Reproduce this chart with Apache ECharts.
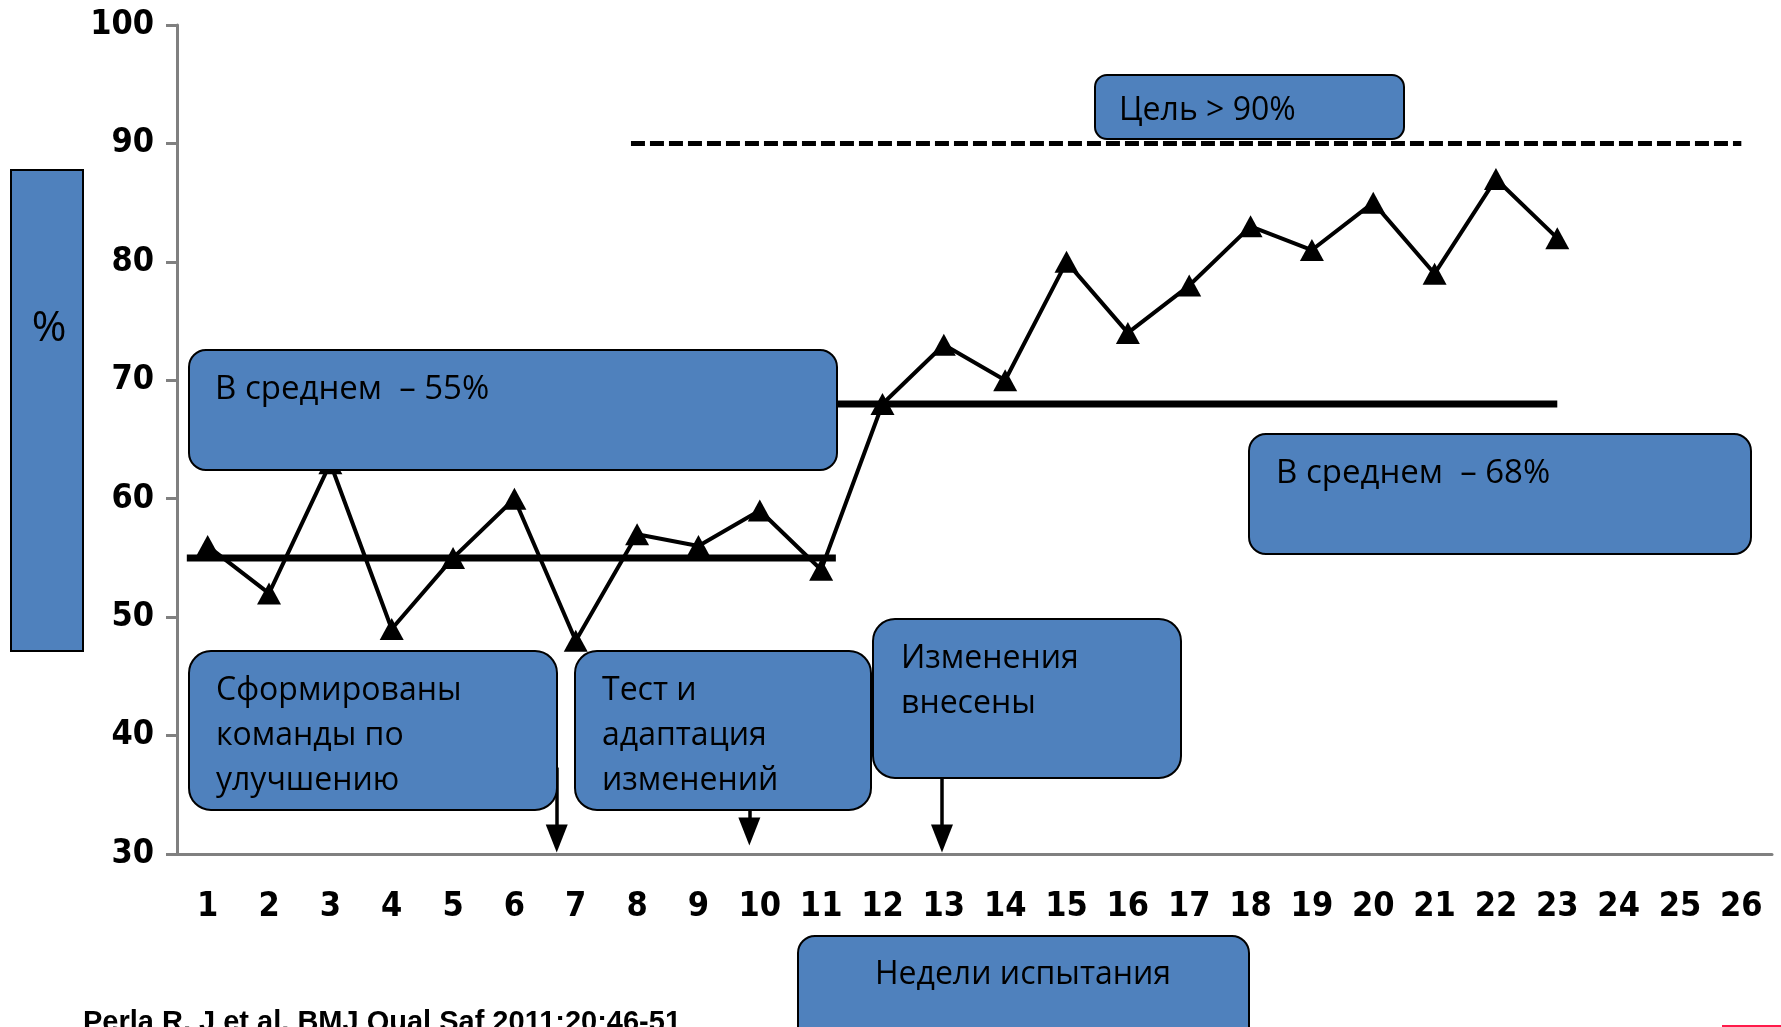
<!DOCTYPE html>
<html>
<head>
    <meta charset="utf-8"/>
    <title>Недели испытания</title>
    <script src="https://cdn.jsdelivr.net/npm/echarts@6/dist/echarts.min.js"></script>
    <style>
        html, body { margin: 0; padding: 0; background: #fff; }
        #main { width: 1781px; height: 1027px; }
    </style>
</head>
<body>
<div id="main"></div>
<script>
    // недели (категории оси X)
    var weeks = [];
    for (let i = 1; i <= 26; i++) {
        weeks.push(String(i));
    }
    // значения по неделям, %
    var values = [56, 52, 63, 49, 55, 60, 48, 57, 56, 59, 54, 68, 73, 70, 80, 74, 78, 83, 81, 85, 79, 87, 82];
    // подписи оси Y
    var yMin = 30, yMax = 100, yStep = 10;

    // средние и цель: [неделя, %]
    var avgBefore = [[0.66, 55], [11.24, 55]];
    var avgAfter = [[11.2, 68], [23.0, 68]];
    var goalLine = [[7.9, 90], [26.0, 90]];
    // стрелки: неделя, начало, конец (%)
    var arrows = [[6.69, 37.3, 31.3], [9.83, 33.7, 31.9], [12.97, 36.4, 31.3]];

    var blue = '#4f81bd';
    var boxFont = '"Open Sans", sans-serif';
    var axisFont = '"DejaVu Sans Condensed", "DejaVu Sans", sans-serif';

    function box(x, y, w, h, r) {
        return {
            type: 'rect', z: 100,
            shape: {x: x, y: y, width: w, height: h, r: r},
            style: {fill: blue, stroke: '#000', lineWidth: 2}
        };
    }
    function label(x, y, txt, size, align) {
        return {
            type: 'text', z: 101, x: x, y: y,
            style: {
                text: txt, fill: '#000', font: size + 'px ' + boxFont,
                textAlign: align || 'left', textVerticalAlign: 'middle'
            }
        };
    }

    var myChart = echarts.init(document.getElementById('main'));
    var option = {
        animation: false,
        grid: {left: 177, right: 9, top: 25, bottom: 173, containLabel: false},
        xAxis: [{
            type: 'category',
            data: weeks,
            axisLine: {lineStyle: {color: '#808080', width: 3}},
            axisTick: {length: 12, lineStyle: {color: '#808080', width: 3}},
            axisLabel: {
                color: '#000', fontFamily: axisFont, fontWeight: 'bold',
                fontSize: 34, margin: 36, interval: 0
            },
            splitLine: {show: false}
        }, {
            // скрытая ось для средних линий и стрелок
            type: 'value', min: 0.5, max: 26.5, show: false
        }],
        yAxis: {
            type: 'value', min: yMin, max: yMax, interval: yStep,
            axisLine: {show: true, lineStyle: {color: '#808080', width: 3}},
            axisTick: {show: true, length: 11, lineStyle: {color: '#808080', width: 3}},
            axisLabel: {
                color: '#000', fontFamily: axisFont, fontWeight: 'bold',
                fontSize: 34, margin: 23
            },
            splitLine: {show: false}
        },
        series: [{
            name: 'до', type: 'line', xAxisIndex: 1, data: avgBefore,
            symbol: 'none', lineStyle: {color: '#000', width: 7}, z: 1
        }, {
            name: 'после', type: 'line', xAxisIndex: 1, data: avgAfter,
            symbol: 'none', lineStyle: {color: '#000', width: 7}, z: 1
        }, {
            name: 'цель', type: 'line', xAxisIndex: 1, data: goalLine,
            symbol: 'none', lineStyle: {color: '#000', width: 5, type: [14, 5]}, z: 1
        }, {
            name: '%', type: 'line', xAxisIndex: 0, data: values,
            symbol: 'triangle', symbolSize: [24, 22],
            itemStyle: {color: '#000'},
            lineStyle: {color: '#000', width: 4}, z: 3
        }, {
            name: 'стрелки', type: 'line', xAxisIndex: 1, data: [],
            markLine: {
                silent: true, symbol: ['none', 'triangle'], symbolSize: [22, 28],
                label: {show: false},
                lineStyle: {color: '#000', width: 3.5, type: 'solid'},
                data: arrows.map(function (a) {
                    return [{coord: [a[0], a[1]]}, {coord: [a[0], a[2]]}];
                })
            }
        }],
        graphic: [
            box(11, 170, 72, 481, 0),
            label(49, 329, '%', 42, 'center'),
            box(1095, 75, 309, 64, 12),
            label(1119, 111, 'Цель > 90%', 32),
            box(189, 350, 648, 120, 17),
            label(215, 390, 'В среднем  – 55%', 33),
            box(1249, 434, 502, 120, 17),
            label(1276, 474, 'В среднем  – 68%', 33),
            box(189, 651, 368, 159, 22),
            label(216, 691, 'Сформированы', 32),
            label(216, 736, 'команды по', 32),
            label(216, 781, 'улучшению', 32),
            box(575, 651, 296, 159, 22),
            label(602, 691, 'Тест и', 32),
            label(602, 736, 'адаптация', 32),
            label(602, 781, 'изменений', 32),
            box(873, 619, 308, 159, 22),
            label(901, 659, 'Изменения', 32),
            label(901, 704, 'внесены', 32),
            box(798, 936, 451, 110, 17),
            label(1023, 975, 'Недели испытания', 32, 'center'),
            {
                type: 'text', x: 83, y: 1008, z: 101,
                style: {
                    text: 'Perla R, J et al. BMJ Qual Saf 2011;20:46-51', fill: '#000',
                    font: 'bold 29px "Liberation Sans", Arial, sans-serif', textVerticalAlign: 'top'
                }
            },
            {
                type: 'rect', z: 101,
                shape: {x: 1722, y: 1025, width: 59, height: 2},
                style: {fill: '#ff1a4a'}
            }
        ]
    };
    myChart.setOption(option);

    window.onresize = function () {
        myChart.resize();
    };
</script>
</body>
</html>
